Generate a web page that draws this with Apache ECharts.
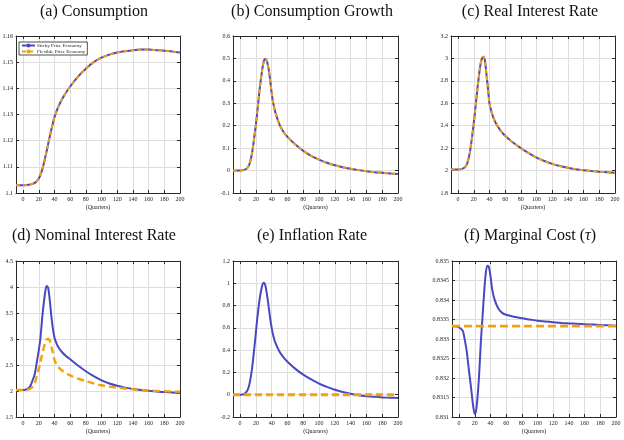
<!DOCTYPE html>
<html><head><meta charset="utf-8">
<script src="https://cdn.jsdelivr.net/npm/echarts@6/dist/echarts.min.js"></script>
<style>html,body{margin:0;padding:0;background:#fff}#c{width:624px;height:440px}</style>
</head><body><div id="c"></div>
<script>
// ---------------- data ----------------
const quarters = [-9,-5,0,3,5,8,10,12,15,18,20,22,25,28,30,32,34,36,38,40,42,45,50,55,60,70,80,90,100,110,120,130,140,150,160,170,180,190,200];
const xTicks = [0,20,40,60,80,100,120,140,160,180,200];

const consumptionSticky = [1.1030,1.1030,1.1030,1.1030,1.1031,1.1032,1.1033,1.1035,1.1039,1.1047,1.1055,1.1068,1.1095,1.1133,1.1159,1.1187,1.1215,1.1242,1.1267,1.1290,1.1307,1.1330,1.1360,1.1385,1.1407,1.1445,1.1475,1.1500,1.1517,1.1529,1.1537,1.1542,1.1546,1.1548,1.1548,1.1546,1.1544,1.1541,1.1537];
const consumptionFlex   = [1.1030,1.1030,1.1030,1.1030,1.1031,1.1032,1.1033,1.1035,1.1039,1.1047,1.1055,1.1068,1.1095,1.1133,1.1159,1.1187,1.1215,1.1242,1.1267,1.1290,1.1307,1.1330,1.1360,1.1385,1.1407,1.1445,1.1475,1.1500,1.1517,1.1529,1.1537,1.1542,1.1546,1.1548,1.1548,1.1546,1.1544,1.1541,1.1537];

const growthSticky = [0,0,0,0.001,0.003,0.008,0.015,0.03,0.075,0.15,0.205,0.27,0.37,0.45,0.488,0.499,0.488,0.455,0.405,0.345,0.30,0.255,0.205,0.172,0.150,0.116,0.088,0.066,0.049,0.035,0.024,0.015,0.008,0.002,-0.003,-0.007,-0.010,-0.013,-0.015];
const growthFlex   = [0,0,0,0.001,0.003,0.008,0.015,0.03,0.075,0.15,0.205,0.27,0.37,0.45,0.488,0.499,0.488,0.455,0.405,0.345,0.30,0.255,0.205,0.172,0.150,0.116,0.088,0.066,0.049,0.035,0.024,0.015,0.008,0.002,-0.003,-0.007,-0.010,-0.013,-0.015];

const realRateSticky = [2.01,2.01,2.01,2.012,2.015,2.025,2.04,2.07,2.16,2.31,2.42,2.55,2.75,2.92,2.99,3.015,2.99,2.87,2.74,2.60,2.54,2.47,2.40,2.35,2.31,2.25,2.20,2.155,2.115,2.085,2.06,2.04,2.025,2.012,2.003,1.996,1.99,1.985,1.98];
const realRateFlex   = [2.01,2.01,2.01,2.012,2.015,2.025,2.04,2.07,2.16,2.31,2.42,2.55,2.75,2.92,2.99,3.015,2.99,2.87,2.74,2.60,2.54,2.47,2.40,2.35,2.31,2.25,2.20,2.155,2.115,2.085,2.06,2.04,2.025,2.012,2.003,1.996,1.99,1.985,1.98];

const nominalSticky = [2.02,2.02,2.02,2.025,2.035,2.07,2.12,2.2,2.33,2.6,2.78,3.0,3.5,3.88,4.02,3.98,3.75,3.45,3.2,3.03,2.94,2.84,2.74,2.67,2.61,2.49,2.38,2.285,2.205,2.145,2.10,2.065,2.04,2.02,2.005,1.99,1.98,1.97,1.96];
const nominalFlex   = [2.02,2.02,2.02,2.022,2.025,2.035,2.05,2.08,2.16,2.31,2.42,2.55,2.75,2.92,2.99,3.0,2.97,2.86,2.73,2.60,2.53,2.46,2.39,2.34,2.30,2.24,2.19,2.145,2.11,2.085,2.065,2.048,2.033,2.02,2.01,2.0,1.995,1.99,1.985];

const inflationSticky = [0,0,0,0.002,0.006,0.025,0.05,0.1,0.23,0.42,0.56,0.7,0.87,0.98,1.005,0.98,0.9,0.8,0.69,0.6,0.53,0.46,0.385,0.335,0.295,0.232,0.18,0.137,0.1,0.07,0.045,0.025,0.008,-0.004,-0.013,-0.019,-0.024,-0.027,-0.03];
const inflationFlex   = [0,0,0,0,0,0,0,0,0,0,0,0,0,0,0,0,0,0,0,0,0,0,0,0,0,0,0,0,0,0,0,0,0,0,0,0,0,0,0];

const mcSticky = [0.83333,0.83333,0.8333,0.83325,0.8332,0.8329,0.83265,0.8323,0.8318,0.83128,0.83108,0.8312,0.8319,0.833,0.8336,0.8342,0.83468,0.83488,0.83485,0.83462,0.8343,0.83403,0.83378,0.83367,0.83362,0.83357,0.83353,0.8335,0.83347,0.83345,0.83343,0.83341,0.8334,0.83339,0.83338,0.83337,0.83336,0.83335,0.83334];
const mcFlex   = [0.83333,0.83333,0.83333,0.83333,0.83333,0.83333,0.83333,0.83333,0.83333,0.83333,0.83333,0.83333,0.83333,0.83333,0.83333,0.83333,0.83333,0.83333,0.83333,0.83333,0.83333,0.83333,0.83333,0.83333,0.83333,0.83333,0.83333,0.83333,0.83333,0.83333,0.83333,0.83333,0.83333,0.83333,0.83333,0.83333,0.83333,0.83333,0.83333];

const titles = ['(a) Consumption','(b) Consumption Growth','(c) Real Interest Rate','(d) Nominal Interest Rate','(e) Inflation Rate','(f) Marginal Cost ({i|τ})'];
const legendNames = ['Sticky Price Economy','Flexible Price Economy'];
const xName = '(Quarters)';

// ---------------- layout / style ----------------
const panels = [
  {sticky: consumptionSticky, flex: consumptionFlex, ymin:1.10, ymax:1.16, yint:0.01, box:[16,36,164,157], dash:[4,3], fw:2},
  {sticky: growthSticky, flex: growthFlex, ymin:-0.1, ymax:0.6, yint:0.1, box:[233,36,165,157], dash:[4,3], fw:2},
  {sticky: realRateSticky, flex: realRateFlex, ymin:1.8, ymax:3.2, yint:0.2, box:[451,36,164,157], dash:[4,3], fw:2},
  {sticky: nominalSticky, flex: nominalFlex, ymin:1.5, ymax:4.5, yint:0.5, box:[16,261,164,156], dash:[7,4], fw:2.4},
  {sticky: inflationSticky, flex: inflationFlex, ymin:-0.2, ymax:1.2, yint:0.2, box:[233,261,165,156], dash:[7,4], fw:3},
  {sticky: mcSticky, flex: mcFlex, ymin:0.831, ymax:0.835, yint:0.0005, box:[452,261,164,156], dash:[8,4], fw:2.6}
];
const BLUE = '#4848C4', ORANGE = '#F2A10C', FONT = 'Liberation Serif';
const titlePos = [[94,12],[312,12],[530,12],[94,236],[312,236],[530,236]];

const grid = [], xAxis = [], yAxis = [], series = [], graphic = [];
panels.forEach((p, i) => {
  grid.push({left:p.box[0], top:p.box[1], width:p.box[2], height:p.box[3], containLabel:false, outerBoundsMode:'none'});
  const frame = {show:true, onZero:false, lineStyle:{color:'#2a2a2a', width:1}};
  xAxis.push({type:'value', gridIndex:i, min:-9, max:200, position:'bottom',
    axisLine:frame,
    axisTick:{show:true, inside:true, length:3, customValues:xTicks, lineStyle:{color:'#2a2a2a'}},
    axisLabel:{customValues:xTicks, fontSize:6, fontFamily:FONT, color:'#222', margin:3},
    splitLine:{show:true, lineStyle:{color:'#dedede', width:1}},
    name:xName, nameLocation:'middle', nameGap:11, nameTextStyle:{fontSize:6, fontFamily:FONT, color:'#222'}});
  xAxis.push({type:'value', gridIndex:i, min:-9, max:200, position:'top',
    axisLine:frame,
    axisTick:{show:true, inside:true, length:3, customValues:xTicks, lineStyle:{color:'#2a2a2a'}},
    axisLabel:{show:false}, splitLine:{show:false}});
  yAxis.push({type:'value', gridIndex:i, min:p.ymin, max:p.ymax, interval:p.yint, position:'left',
    axisLine:frame,
    axisTick:{show:true, inside:true, length:3, lineStyle:{color:'#2a2a2a'}},
    axisLabel:{fontSize:6, fontFamily:FONT, color:'#222', margin:3},
    splitLine:{show:true, lineStyle:{color:'#dedede', width:1}}});
  yAxis.push({type:'value', gridIndex:i, min:p.ymin, max:p.ymax, interval:p.yint, position:'right',
    axisLine:frame,
    axisTick:{show:true, inside:true, length:3, lineStyle:{color:'#2a2a2a'}},
    axisLabel:{show:false}, splitLine:{show:false}});
  series.push({type:'line', name:legendNames[0], xAxisIndex:2*i, yAxisIndex:2*i,
    data: quarters.map((q,k)=>[q,p.sticky[k]]), showSymbol:false, symbol:'none', smooth:0.3,
    lineStyle:{color:BLUE, width:2}, itemStyle:{color:BLUE}, z:3, silent:true});
  series.push({type:'line', name:legendNames[1], xAxisIndex:2*i, yAxisIndex:2*i,
    data: quarters.map((q,k)=>[q,p.flex[k]]), showSymbol:false, symbol:'none', smooth:0.3,
    lineStyle:{color:ORANGE, width:p.fw, type:p.dash}, itemStyle:{color:ORANGE}, z:4, silent:true});
  graphic.push({type:'text', x:titlePos[i][0], y:titlePos[i][1],
    style:{text:titles[i], fontSize:16, fontFamily:FONT, fill:'#111', align:'center', verticalAlign:'middle',
      rich:{i:{fontSize:16, fontFamily:FONT, fontStyle:'italic', fill:'#111'}}}});
});

const chart = echarts.init(document.getElementById('c'), null, {renderer:'canvas'});
chart.setOption({
  animation:false,
  backgroundColor:'#fff',
  grid, xAxis, yAxis, series, graphic,
  legend:{data:legendNames, orient:'vertical', left:19, top:42, itemGap:1, itemWidth:13, itemHeight:5,
    padding:[1,2,1,2], borderColor:'#222', borderWidth:0.8, backgroundColor:'#fff', borderRadius:0,
    textStyle:{fontSize:5, fontFamily:FONT, color:'#222', padding:[0,0,0,-3]}, selectedMode:false}
});
</script></body></html>
